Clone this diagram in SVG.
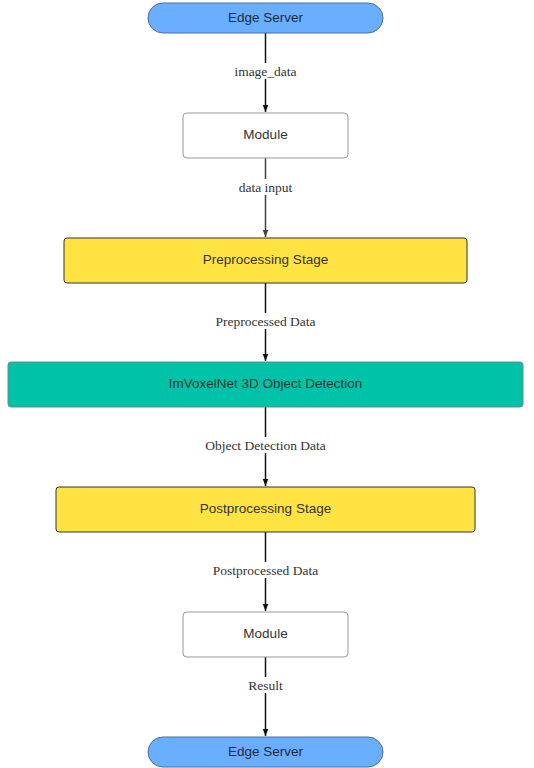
<svg xmlns="http://www.w3.org/2000/svg" width="534" height="768" viewBox="0 0 534 768">
<defs>
<marker id="a" markerWidth="8" markerHeight="11" refX="10" refY="4" orient="auto" markerUnits="userSpaceOnUse" viewBox="0 0 11 8">
<path d="M0,0 L10,4 L0,8 Z" fill="#111"/>
</marker>
<marker id="a2" markerWidth="8" markerHeight="11" refX="10" refY="4" orient="auto" markerUnits="userSpaceOnUse" viewBox="0 0 11 8">
<path d="M0,0 L10,4 L0,8 Z" fill="#3a414a"/>
</marker>
</defs>
<style>
.t{font-family:"Liberation Sans",Arial,sans-serif;font-size:13.5px;text-anchor:middle;dominant-baseline:central;fill:#333}
.l{font-family:"Liberation Serif","Times New Roman",serif;font-size:13.5px;text-anchor:middle;dominant-baseline:central;fill:#333}
.lb{fill:#fff}
.c{stroke:#111;stroke-width:1.5;fill:none;marker-end:url(#a)}
.es{fill:#6aafff;stroke:#4b6e9c;stroke-width:1}
.m{fill:#fff;stroke:#999;stroke-width:1}
.y{fill:#ffe342;stroke:#333;stroke-width:1}
.g{fill:#00c2a8;stroke:#6b8c87;stroke-width:1}
</style>
<g id="connectors">
<path class="c" d="M265.5,33 V112"/>
<path class="c" d="M265.5,158 V237" style="stroke:#3a414a;marker-end:url(#a2)"/>
<path class="c" d="M265.5,283 V361"/>
<path class="c" d="M265.5,407 V486"/>
<path class="c" d="M265.5,532 V611"/>
<path class="c" d="M265.5,657 V736"/>
<rect class="lb" x="231" y="63" width="69" height="16"/>
<text class="l" x="265.5" y="71.5">image_data</text>
<rect class="lb" x="235" y="179" width="61" height="16"/>
<text class="l" x="265.5" y="187.5">data input</text>
<rect class="lb" x="212" y="313" width="107" height="16"/>
<text class="l" x="265.5" y="321.5">Preprocessed Data</text>
<rect class="lb" x="202" y="437" width="127" height="16"/>
<text class="l" x="265.5" y="445.5">Object Detection Data</text>
<rect class="lb" x="209" y="562" width="113" height="16"/>
<text class="l" x="265.5" y="570.5">Postprocessed Data</text>
<rect class="lb" x="245" y="677" width="41" height="16"/>
<text class="l" x="265.5" y="685.5">Result</text>
</g>
<g id="edge1"><rect class="es" x="148" y="3" width="235" height="30" rx="15"/><text class="t" x="265.5" y="17.5" style="fill:#1d2a3a">Edge Server</text></g>
<g id="module1"><rect class="m" x="183" y="113" width="165" height="45" rx="4"/><text class="t" x="265.5" y="134.5">Module</text></g>
<g id="pre"><rect class="y" x="64" y="238" width="403" height="45" rx="3"/><text class="t" x="265.5" y="259.5">Preprocessing Stage</text></g>
<g id="det"><rect class="g" x="8" y="362" width="515" height="45" rx="3"/><text class="t" x="265.5" y="383.5">ImVoxelNet 3D Object Detection</text></g>
<g id="post"><rect class="y" x="56" y="487" width="419" height="45" rx="3"/><text class="t" x="265.5" y="508.5">Postprocessing Stage</text></g>
<g id="module2"><rect class="m" x="183" y="612" width="165" height="45" rx="4"/><text class="t" x="265.5" y="633.5">Module</text></g>
<g id="edge2"><rect class="es" x="148" y="737" width="235" height="30" rx="15"/><text class="t" x="265.5" y="751" style="fill:#1d2a3a">Edge Server</text></g>
</svg>
